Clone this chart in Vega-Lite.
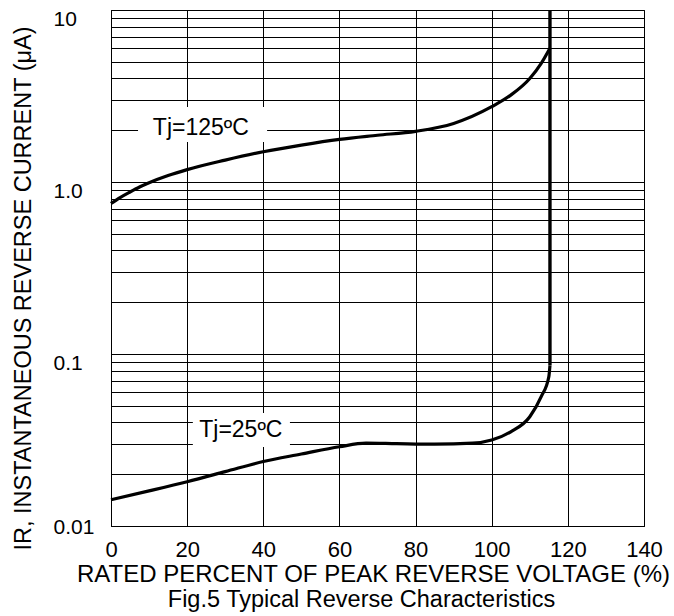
{
  "$schema": "https://vega.github.io/schema/vega-lite/v6.json",
  "width": 533,
  "height": 516,
  "autosize": {"type": "none"},
  "padding": {"left": 111, "top": 10, "right": 30, "bottom": 90},
  "background": "white",
  "config": {
    "view": {"stroke": "#000", "strokeWidth": 1},
    "font": "Liberation Sans"
  },
  "title": {
    "text": "Fig.5 Typical Reverse Characteristics",
    "orient": "bottom",
    "anchor": "middle",
    "fontSize": 23.5,
    "fontWeight": "normal",
    "font": "Liberation Sans",
    "color": "#000",
    "offset": 2,
    "dx": -16
  },
  "datasets": {
    "curves": [
      {"series": "125", "x": 0, "y": 0.75},
      {"series": "125", "x": 2.5, "y": 0.815},
      {"series": "125", "x": 5, "y": 0.875},
      {"series": "125", "x": 7.5, "y": 0.935},
      {"series": "125", "x": 10, "y": 0.99},
      {"series": "125", "x": 15, "y": 1.09},
      {"series": "125", "x": 20, "y": 1.18},
      {"series": "125", "x": 30, "y": 1.34},
      {"series": "125", "x": 40, "y": 1.5},
      {"series": "125", "x": 50, "y": 1.64},
      {"series": "125", "x": 60, "y": 1.77},
      {"series": "125", "x": 70, "y": 1.87},
      {"series": "125", "x": 80, "y": 1.97},
      {"series": "125", "x": 90, "y": 2.19},
      {"series": "125", "x": 100, "y": 2.74},
      {"series": "125", "x": 105, "y": 3.2},
      {"series": "125", "x": 110, "y": 4.0},
      {"series": "125", "x": 113, "y": 4.9},
      {"series": "125", "x": 115.3, "y": 6.0},
      {"series": "25", "x": 0, "y": 0.0142},
      {"series": "25", "x": 10, "y": 0.016},
      {"series": "25", "x": 20, "y": 0.0181},
      {"series": "25", "x": 30, "y": 0.0207},
      {"series": "25", "x": 40, "y": 0.0237},
      {"series": "25", "x": 50, "y": 0.0262},
      {"series": "25", "x": 60, "y": 0.0289},
      {"series": "25", "x": 67, "y": 0.0303},
      {"series": "25", "x": 75, "y": 0.0301},
      {"series": "25", "x": 85, "y": 0.0299},
      {"series": "25", "x": 95, "y": 0.0303},
      {"series": "25", "x": 100, "y": 0.0316},
      {"series": "25", "x": 105, "y": 0.0353},
      {"series": "25", "x": 110, "y": 0.0432},
      {"series": "25", "x": 113, "y": 0.0565},
      {"series": "25", "x": 115, "y": 0.0738},
      {"series": "25", "x": 115.3, "y": 0.086}
    ],
    "vertical": [{"x": 115.3, "y": 0.086, "y2": 10}],
    "labels": [
      {"text": "Tj=125ºC", "x": 23.6, "y": 2.06, "bx": 7.1, "bx2": 41.0, "by": 1.71, "by2": 2.73},
      {"text": "Tj=25ºC", "x": 34.1, "y": 0.0361, "bx": 21.5, "bx2": 47.0, "by": 0.0288, "by2": 0.0454}
    ]
  },
  "layer": [
    {
      "data": {"name": "labels"},
      "mark": {"type": "rect", "fill": "white", "stroke": null},
      "encoding": {
        "x": {
          "field": "bx", "type": "quantitative",
          "scale": {"domain": [0, 140], "nice": false, "zero": false},
          "axis": {
            "values": [0, 20, 40, 60, 80, 100, 120, 140],
            "title": "RATED PERCENT OF PEAK REVERSE VOLTAGE (%)",
            "titleFontSize": 24,
            "titleFontWeight": "normal",
            "titleFont": "Liberation Sans",
            "titleColor": "#000",
            "titlePadding": 2,
            "titleX": 262,
            "titleAlign": "center",
            "labelFontSize": 22,
            "labelFont": "Liberation Sans",
            "labelColor": "#000",
            "labelPadding": 13,
            "labelFlush": false,
            "labelOverlap": false,
            "ticks": false,
            "tickSize": 0,
            "grid": true,
            "gridColor": "#000",
            "gridOpacity": 1,
            "gridWidth": 1,
            "domainColor": "#000",
            "domainWidth": 1
          }
        },
        "x2": {"field": "bx2"},
        "y": {
          "field": "by", "type": "quantitative",
          "scale": {"type": "log", "domain": [0.01, 10], "nice": false},
          "axis": {
            "values": [0.01, 0.02, 0.03, 0.04, 0.05, 0.06, 0.07, 0.08, 0.09, 0.1, 0.2, 0.3, 0.4, 0.5, 0.6, 0.7, 0.8, 0.9, 1, 2, 3, 4, 5, 6, 7, 8, 9, 10],
            "labelExpr": "datum.value == 10 ? '10' : datum.value == 1 ? '1.0' : datum.value == 0.1 ? '0.1' : datum.value == 0.01 ? '0.01' : ''",
            "title": "IR, INSTANTANEOUS REVERSE CURRENT (μA)",
            "titleFontSize": 23.5,
            "titleFontWeight": "normal",
            "titleFont": "Liberation Sans",
            "titleColor": "#000",
            "titleX": -88,
            "titleY": 278,
            "titleBaseline": "middle",
            "titleAlign": "center",
            "labelFontSize": 21,
            "labelFont": "Liberation Sans",
            "labelColor": "#000",
            "labelAlign": "left",
            "labelBaseline": "middle",
            "labelPadding": 58,
            "labelOffset": {"condition": {"test": "datum.value >= 0.05", "value": 9}, "value": 1},
            "labelFlush": false,
            "labelOverlap": false,
            "ticks": false,
            "tickSize": 0,
            "grid": true,
            "gridColor": "#000",
            "gridOpacity": 1,
            "gridWidth": 1,
            "domainColor": "#000",
            "domainWidth": 1
          }
        },
        "y2": {"field": "by2"}
      }
    },
    {
      "data": {"name": "curves"},
      "mark": {"type": "line", "color": "#000", "strokeWidth": 3.2, "interpolate": "monotone"},
      "encoding": {
        "x": {"field": "x", "type": "quantitative"},
        "y": {"field": "y", "type": "quantitative"},
        "detail": {"field": "series"},
        "order": {"field": "x", "type": "quantitative"}
      }
    },
    {
      "data": {"name": "vertical"},
      "mark": {"type": "rule", "color": "#000", "strokeWidth": 3.4},
      "encoding": {
        "x": {"field": "x", "type": "quantitative"},
        "y": {"field": "y", "type": "quantitative"},
        "y2": {"field": "y2"}
      }
    },
    {
      "data": {"name": "labels"},
      "mark": {"type": "text", "fontSize": 23, "font": "Liberation Sans", "color": "#000", "align": "center", "baseline": "middle"},
      "encoding": {
        "x": {"field": "x", "type": "quantitative"},
        "y": {"field": "y", "type": "quantitative"},
        "text": {"field": "text"}
      }
    }
  ]
}
